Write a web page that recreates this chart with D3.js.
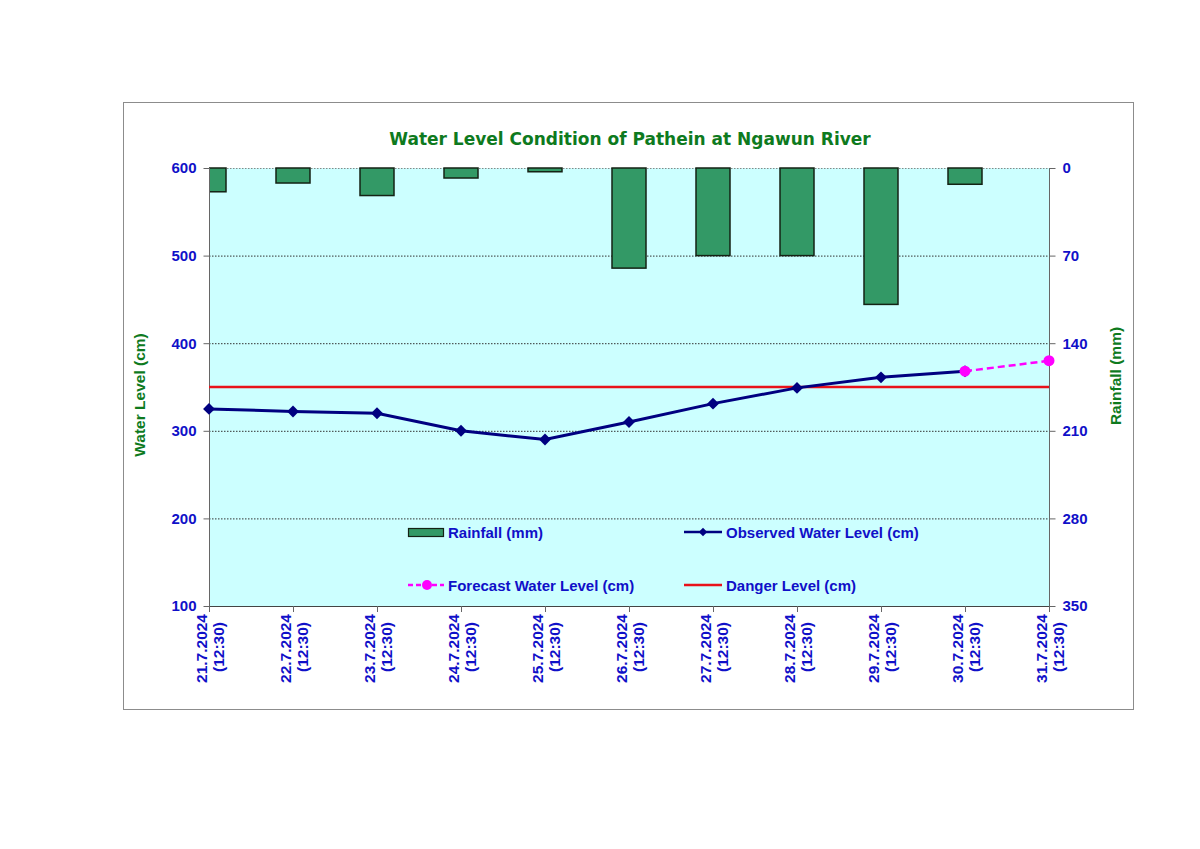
<!DOCTYPE html>
<html><head><meta charset="utf-8">
<script src="https://cdn.jsdelivr.net/npm/d3@7"></script>
<style>body{margin:0;background:#fff}svg{display:block}</style>
</head><body>
<script>
const dates = ["21.7.2024","22.7.2024","23.7.2024","24.7.2024","25.7.2024","26.7.2024","27.7.2024","28.7.2024","29.7.2024","30.7.2024","31.7.2024"];
const timeLabel = "(12:30)";
const rainfall = [19, 12, 22, 8, 3, 80, 70, 70, 109, 13, null];
const observed = [325, 322, 320, 300, 290, 310, 331, 349, 361, 368, null];
const forecast = [null, null, null, null, null, null, null, null, null, 368, 380];
const danger = 350;
const leftTicks = [100, 200, 300, 400, 500, 600];
const rightTicks = [0, 70, 140, 210, 280, 350];

(function () {
const W = 1200, H = 849;
const pL = 209, pR = 1049, pT = 168, pB = 606;
const blue = "#1010c8", green = "#0e7a1e";

const svg = d3.select("body").append("svg").attr("width", W).attr("height", H);

// outer frame
svg.append("rect").attr("x", 123.5).attr("y", 102.5).attr("width", 1010).attr("height", 607)
  .attr("fill", "#fff").attr("stroke", "#8c8c8c").attr("stroke-width", 1);

// plot bg
svg.append("rect").attr("x", pL).attr("y", pT).attr("width", pR - pL).attr("height", pB - pT)
  .attr("fill", "#ccffff");

const x = d3.scalePoint().domain(d3.range(dates.length)).range([pL, pR]);
const y = d3.scaleLinear().domain([100, 600]).range([pB, pT]);
const yr = d3.scaleLinear().domain([0, 350]).range([pT, pB]);

// gridlines
svg.append("g").selectAll("line").data(leftTicks.filter(t => t > 100)).join("line")
  .attr("x1", pL).attr("x2", pR).attr("y1", d => y(d) + 0.5).attr("y2", d => y(d) + 0.5)
  .attr("stroke", d => d === 600 ? "#888" : "#333").attr("stroke-width", 1).attr("stroke-dasharray", "1.5,1.5");

// bars
const bw = 34;
svg.append("defs").append("clipPath").attr("id", "clip").append("rect")
  .attr("x", pL).attr("y", pT - 2).attr("width", pR - pL).attr("height", pB - pT + 4);
svg.append("g").attr("clip-path", "url(#clip)").selectAll("rect")
  .data(rainfall.map((v, i) => ({v, i})).filter(d => d.v != null)).join("rect")
  .attr("x", d => x(d.i) - bw / 2).attr("y", yr(0)).attr("width", bw).attr("height", d => yr(d.v) - yr(0))
  .attr("fill", "#339966").attr("stroke", "#142214").attr("stroke-width", 1.5);

// axes lines
const axisColor = "#666";
svg.append("line").attr("x1", pL + 0.5).attr("x2", pL + 0.5).attr("y1", pT).attr("y2", pB).attr("stroke", axisColor);
svg.append("line").attr("x1", pR + 0.5).attr("x2", pR + 0.5).attr("y1", pT).attr("y2", pB).attr("stroke", axisColor);
svg.append("line").attr("x1", pL).attr("x2", pR).attr("y1", pB + 0.5).attr("y2", pB + 0.5).attr("stroke", "#444");

const tf = "bold 15px 'Liberation Sans', Arial, sans-serif";
const xf = "bold 15.5px 'Liberation Sans', Arial, sans-serif";

// left axis
const la = svg.append("g").attr("transform", `translate(${pL + 0.5},0)`)
  .call(d3.axisLeft(y).tickValues(leftTicks).tickSize(6).tickPadding(7));
la.select(".domain").remove();
la.selectAll("line").attr("stroke", axisColor);
la.selectAll("text").attr("fill", blue).style("font", tf);

// right axis
const ra = svg.append("g").attr("transform", `translate(${pR + 0.5},0)`)
  .call(d3.axisRight(yr).tickValues(rightTicks).tickSize(6).tickPadding(7));
ra.select(".domain").remove();
ra.selectAll("line").attr("stroke", axisColor);
ra.selectAll("text").attr("fill", blue).style("font", tf);

// bottom ticks
svg.append("g").selectAll("line").data(d3.range(dates.length)).join("line")
  .attr("x1", d => x(d) + 0.5).attr("x2", d => x(d) + 0.5).attr("y1", pB).attr("y2", pB + 6).attr("stroke", axisColor);

// x labels
const xl = svg.append("g").selectAll("text").data(dates).join("text")
  .attr("transform", (d, i) => `translate(${x(i)},${pB + 8}) rotate(-90)`)
  .attr("text-anchor", "end").attr("fill", blue)
  .style("font", xf);
xl.append("tspan").attr("x", 0).attr("y", -2).text(d => d);
xl.append("tspan").attr("x", -8).attr("y", 15).text(timeLabel);

// danger line
svg.append("line").attr("x1", pL).attr("x2", pR).attr("y1", y(danger)).attr("y2", y(danger))
  .attr("stroke", "#e8121a").attr("stroke-width", 2.5);

// observed line
const obsPts = observed.map((v, i) => ({v, i})).filter(d => d.v != null);
svg.append("path").datum(obsPts)
  .attr("d", d3.line().x(d => x(d.i)).y(d => y(d.v)))
  .attr("fill", "none").attr("stroke", "#000080").attr("stroke-width", 3);
svg.append("g").selectAll("path").data(obsPts).join("path")
  .attr("transform", d => `translate(${x(d.i)},${y(d.v)})`)
  .attr("d", d3.symbol(d3.symbolDiamond2, 90)).attr("fill", "#000080");

// forecast
const fcPts = forecast.map((v, i) => ({v, i})).filter(d => d.v != null);
svg.append("path").datum(fcPts)
  .attr("d", d3.line().x(d => x(d.i)).y(d => y(d.v)))
  .attr("fill", "none").attr("stroke", "#ff00ff").attr("stroke-width", 2.5).attr("stroke-dasharray", "7,4");
svg.append("g").selectAll("circle").data(fcPts).join("circle")
  .attr("cx", d => x(d.i)).attr("cy", d => y(d.v)).attr("r", 5.5).attr("fill", "#ff00ff");

// legend
const lg = svg.append("g");
lg.append("rect").attr("x", 408.5).attr("y", 528.5).attr("width", 35).attr("height", 8)
  .attr("fill", "#339966").attr("stroke", "#142214").attr("stroke-width", 1.2);
lg.append("text").attr("x", 448).attr("y", 537.5).text("Rainfall (mm)").attr("fill", blue).style("font", tf);
lg.append("line").attr("x1", 684).attr("x2", 722).attr("y1", 532).attr("y2", 532).attr("stroke", "#000080").attr("stroke-width", 2.5);
lg.append("path").attr("transform", "translate(703,532)").attr("d", d3.symbol(d3.symbolDiamond2, 45)).attr("fill", "#000080");
lg.append("text").attr("x", 726).attr("y", 537.5).text("Observed Water Level (cm)").attr("fill", blue).style("font", tf);
lg.append("line").attr("x1", 408).attr("x2", 444).attr("y1", 585).attr("y2", 585).attr("stroke", "#ff00ff").attr("stroke-width", 2.5).attr("stroke-dasharray", "5,3");
lg.append("circle").attr("cx", 427).attr("cy", 585).attr("r", 5).attr("fill", "#ff00ff");
lg.append("text").attr("x", 448).attr("y", 590.5).text("Forecast Water Level (cm)").attr("fill", blue).style("font", tf);
lg.append("line").attr("x1", 684).attr("x2", 722).attr("y1", 585).attr("y2", 585).attr("stroke", "#e8121a").attr("stroke-width", 2.5);
lg.append("text").attr("x", 726).attr("y", 590.5).text("Danger Level (cm)").attr("fill", blue).style("font", tf);

// title
svg.append("text").attr("x", 630).attr("y", 145).attr("text-anchor", "middle")
  .attr("fill", green).style("font", "bold 17px 'DejaVu Sans', Verdana, sans-serif")
  .text("Water Level Condition of Pathein at Ngawun River");

// axis titles
svg.append("text").attr("transform", "translate(145,395) rotate(-90)").attr("text-anchor", "middle")
  .attr("fill", green).style("font", xf).text("Water Level (cm)");
svg.append("text").attr("transform", "translate(1121,376) rotate(-90)").attr("text-anchor", "middle")
  .attr("fill", green).style("font", xf).text("Rainfall (mm)");
})();
</script>
</body></html>
